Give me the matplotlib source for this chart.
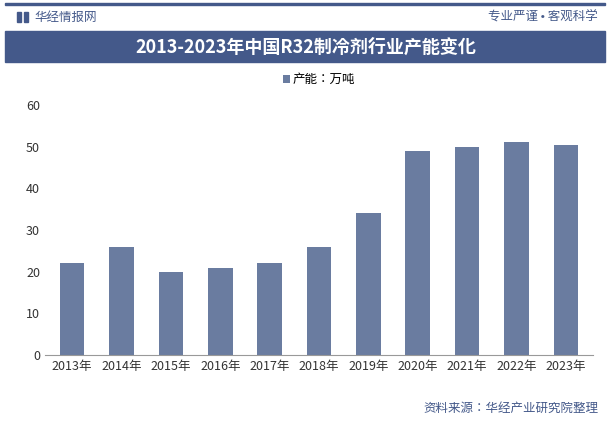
import matplotlib
matplotlib.use("Agg")
import matplotlib.pyplot as plt
from matplotlib.patches import Rectangle
from matplotlib import font_manager

cands = [f.name for f in font_manager.fontManager.ttflist if "CJK" in f.name]
cjk = [n for n in ["Noto Sans CJK SC", "Noto Sans CJK JP", "Noto Sans CJK TC"] if n in cands] or cands[:1]
plt.rcParams["font.family"] = cjk + ["DejaVu Sans"]

years = ["2013年","2014年","2015年","2016年","2017年","2018年","2019年","2020年","2021年","2022年","2023年"]
capacity = [22, 26, 20, 21, 22, 26, 34, 49, 50, 51, 50.5]
yticks = [0, 10, 20, 30, 40, 50, 60]

W, H = 612, 424
fig = plt.figure(figsize=(W/100, H/100), dpi=100)
fig.patch.set_facecolor("white")

def fx(x): return x / W
def fy(y): return 1 - y / H

fig.add_artist(Rectangle((fx(5), fy(5)), fx(600), 2/H, color="#44598a", transform=fig.transFigure))
fig.add_artist(Rectangle((fx(17), fy(22)), 4/W, 10/H, color="#44598a", transform=fig.transFigure))
fig.add_artist(Rectangle((fx(24), fy(22)), 4/W, 10/H, color="#44598a", transform=fig.transFigure))
fig.text(fx(34), fy(17), "华经情报网", fontsize=9, color="#44598a", va="center")
fig.text(fx(598), fy(17), "专业严谨 • 客观科学", fontsize=9, color="#44598a", va="center", ha="right")
fig.add_artist(Rectangle((fx(5), fy(62)), fx(600), 31/H, color="#44598a", transform=fig.transFigure))
fig.text(0.5, fy(47), "2013-2023年中国R32制冷剂行业产能变化", fontsize=13, color="white",
         ha="center", va="center", fontweight="bold")

ax = fig.add_axes([fx(45), fy(355), fx(548), (355-105)/H])
ax.bar(years, capacity, width=0.5, color="#6a7ca0", label="产能：万吨")
ax.set_ylim(0, 60)
ax.set_yticks(yticks)
ax.set_xlim(-0.55, len(years)-0.45)
for s in ["top", "right", "left"]:
    ax.spines[s].set_visible(False)
ax.spines["bottom"].set_color("#999999")
ax.tick_params(axis="y", length=0, labelsize=9, colors="#333333")
ax.tick_params(axis="x", length=0, labelsize=9, colors="#333333")
ax.legend(loc="lower center", bbox_to_anchor=(0.5, 1.03), frameon=False, fontsize=9,
          handlelength=0.6, handleheight=0.6, handletextpad=0.2)

fig.text(fx(598), fy(408), "资料来源：华经产业研究院整理", fontsize=9, color="#44598a", ha="right", va="center")

fig.savefig("out.png", dpi=100)
